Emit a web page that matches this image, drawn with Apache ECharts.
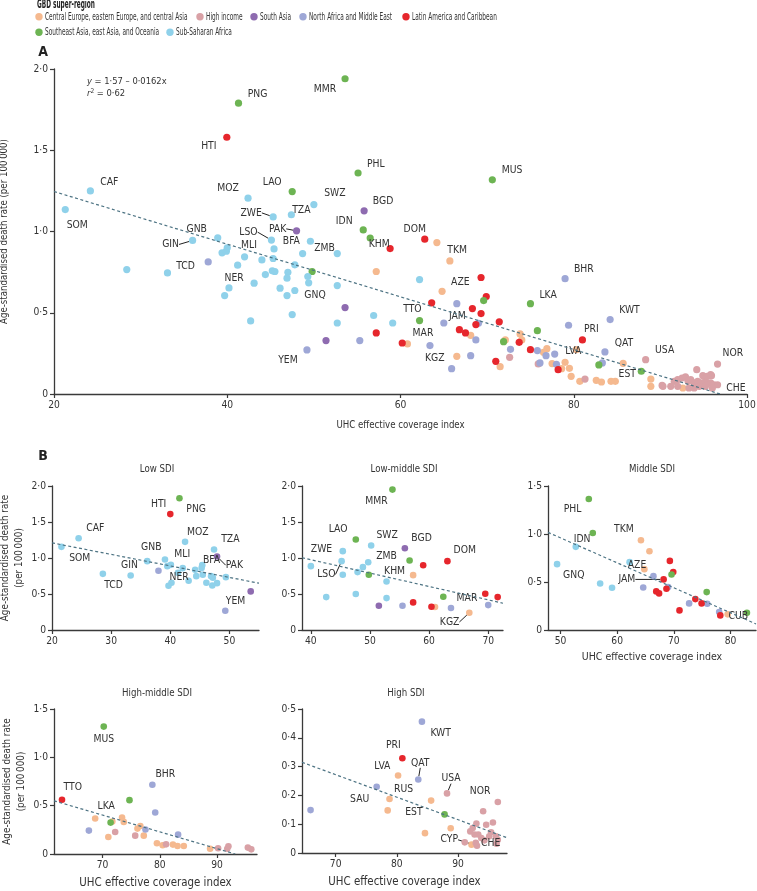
<!DOCTYPE html>
<html><head><meta charset="utf-8">
<script src="https://cdn.jsdelivr.net/npm/echarts@6/dist/echarts.min.js"></script>
<style>html,body{margin:0;padding:0;background:#fff}#c{width:757px;height:891px}</style>
</head><body><div id="c"></div>
<script>
const FONT = "'DejaVu Sans Condensed','DejaVu Sans',sans-serif";

// ---------- DATA ----------
const regionNames = [
  'Central Europe, eastern Europe, and central Asia',
  'High income',
  'South Asia',
  'North Africa and Middle East',
  'Latin America and Caribbean',
  'Southeast Asia, east Asia, and Oceania',
  'Sub-Saharan Africa'
];
// [UHC index, death rate, region index, label]
const panelA = [
  [24.2,1.25,6,'CAF'],[21.3,1.135,6,'SOM'],[42.4,1.205,6,'MOZ'],[50.0,1.166,6,'SWZ'],[45.3,1.09,6,'ZWE'],[47.4,1.103,6,'TZA'],
  [36.0,0.945,6,'GIN'],[38.9,0.961,6,'GNB'],[39.4,0.869,6],[39.9,0.879,6],[40.0,0.90,6,'MLI'],[33.1,0.745,6,'TCD'],[28.4,0.766,6],
  [41.2,0.793,6],[42.0,0.844,6],[44.0,0.825,6],[45.3,0.834,6],[45.4,0.893,6],[45.1,0.947,6,'LSO'],[49.6,0.94,6,'BFA'],[48.7,0.864,6],
  [47.8,0.795,6],[52.7,0.864,6,'ZMB'],[45.2,0.758,6],[45.5,0.754,6],[44.4,0.735,6],[47.0,0.749,6],[46.9,0.713,6],[49.3,0.723,6],
  [49.4,0.684,6,'GNQ'],[43.1,0.682,6,'NER'],[40.2,0.653,6],[39.7,0.606,6],[46.1,0.651,6],[46.9,0.606,6],[47.8,0.637,6],[52.7,0.667,6],
  [47.5,0.489,6],[42.7,0.45,6],[52.7,0.437,6],[56.9,0.483,6],[62.2,0.704,6],[59.1,0.437,6],
  [48.0,1.004,2,'PAK'],[55.8,1.127,2,'BGD'],[53.6,0.532,2],[51.4,0.329,2],
  [37.8,0.813,3],[49.2,0.271,3,'YEM'],[55.3,0.329,3],[66.5,0.556,3],[69.0,0.435,3],[65.0,0.437,3],[68.7,0.333,3],[63.4,0.298,3,'MAR'],
  [68.1,0.236,3],[65.9,0.156,3],[72.7,0.275,3],[75.8,0.267,3],[76.8,0.236,3],[77.8,0.246,3],[76.1,0.191,3],[78.0,0.183,3],
  [79.0,0.71,3,'BHR'],[79.4,0.423,3],[84.2,0.458,3,'KWT'],[83.6,0.259,3,'QAT'],[83.3,0.191,3],
  [39.95,1.58,4,'HTI'],[58.8,0.895,4],[62.8,0.953,4,'DOM'],[69.3,0.717,4],[69.9,0.60,4],[63.6,0.561,4,'TTO'],[68.3,0.526,4,'JAM'],
  [69.3,0.495,4],[68.7,0.427,4],[57.2,0.376,4],[66.8,0.396,4],[67.5,0.376,4],[71.4,0.444,4],[60.2,0.314,4],[71.0,0.201,4],
  [75.0,0.273,4],[73.7,0.318,4],[78.2,0.15,4],[81.0,0.333,4,'PRI'],
  [53.6,1.94,5,'MMR'],[41.3,1.79,5,'PNG'],[47.5,1.246,5,'LAO'],[55.1,1.36,5,'PHL'],[55.7,1.01,5,'IDN'],[56.5,0.96,5,'KHM'],
  [49.8,0.754,5],[69.6,0.575,5],[62.2,0.452,5],[75.0,0.556,5,'LKA'],[75.8,0.39,5],[71.9,0.322,5],[82.9,0.179,5],[87.8,0.14,5,'EST'],
  [70.6,1.318,5,'MUS'],
  [57.2,0.754,0],[64.2,0.932,0],[65.7,0.819,0,'TKM'],[64.8,0.632,0,'AZE'],[68.1,0.361,0],[60.8,0.308,0],[66.5,0.232,0,'KGZ'],
  [71.5,0.168,0],[72.1,0.333,0],[73.8,0.37,0],[74.0,0.333,0],[76.9,0.279,0],[76.5,0.257,0],[77.5,0.187,0],[79.0,0.195,0],
  [78.6,0.156,0],[79.5,0.158,0],[79.7,0.109,0],[80.3,0.273,0,'LVA'],[80.7,0.078,0],[82.6,0.084,0],[83.2,0.074,0],[84.3,0.078,0],
  [84.8,0.078,0],[85.7,0.189,0],[88.9,0.092,0],[88.9,0.047,0],[92.6,0.037,0],
  [72.6,0.226,1],[75.9,0.185,1],[81.3,0.092,1],[88.3,0.211,1,'USA'],[90.2,0.053,1],[96.6,0.184,1,'NOR'],[94.2,0.150,1],
  [95.9,0.113,1],[94.9,0.113,1],[91.6,0.078,1],[92.0,0.088,1],[92.5,0.098,1],[92.9,0.105,1],[93.2,0.078,1],[93.5,0.088,1],
  [93.9,0.068,1],[94.3,0.078,1],[94.7,0.068,1],[95.2,0.078,1],[95.8,0.068,1],[96.2,0.057,1],[96.6,0.057,1],[91.2,0.047,1],
  [92.0,0.047,1],[93.3,0.037,1],[93.9,0.037,1],[94.5,0.047,1],[95.2,0.047,1],[96.0,0.037,1,'CHE'],[90.3,0.047,1],
  [95.4,0.109,1],[95.8,0.119,1]
];
const panelLow = [
  [21.6,1.155,6,'SOM'],[24.5,1.275,6,'CAF'],[42.5,1.224,6,'MOZ'],[47.4,1.118,6,'TZA'],[36.1,0.956,6,'GIN'],[39.1,0.979,6,'GNB'],
  [39.5,0.887,6],[40.1,0.905,6,'MLI'],[28.6,0.78,6,'TCD'],[33.3,0.757,6],[42.1,0.859,6],[41.3,0.794,6],[43.1,0.684,6],
  [44.2,0.836,6],[44.4,0.748,6],[45.4,0.901,6,'BFA'],[45.5,0.767,6],[46.1,0.656,6],[46.9,0.748,6],[47.1,0.619,6],[47.9,0.651,6],
  [49.4,0.734,6],[40.2,0.656,6,'NER'],[39.7,0.614,6],[47.2,0.725,6],[45.3,0.86,6],
  [47.9,1.021,2,'PAK'],[53.6,0.536,2],
  [38.0,0.822,3],[49.3,0.268,3,'YEM'],
  [40.0,1.61,4,'HTI'],
  [41.55,1.83,5,'PNG']
];
const panelLowMid = [
  [53.8,1.95,5,'MMR'],[47.6,1.256,5,'LAO'],[49.8,0.767,5],[56.7,0.965,5,'KHM'],[62.4,0.462,5],
  [50.2,1.173,6,'SWZ'],[45.4,1.095,6,'ZWE'],[45.2,0.956,6,'LSO'],[40.0,0.887,6],[45.4,0.767,6],[48.8,0.873,6],[49.7,0.942,6,'ZMB'],
  [47.9,0.804,6],[52.8,0.674,6],[42.6,0.457,6],[47.6,0.499,6],[52.8,0.443,6],
  [55.9,1.136,2,'BGD'],[51.5,0.337,2],
  [59.0,0.9,4],[63.1,0.956,4,'DOM'],[57.3,0.383,4],[60.4,0.323,4],[69.5,0.503,4],[71.6,0.457,4],
  [57.3,0.762,0],[61.0,0.319,0],[66.8,0.24,0,'KGZ'],
  [55.5,0.337,3],[63.7,0.305,3,'MAR'],[70.0,0.346,3]
];
const panelMid = [
  [55.0,1.365,5,'PHL'],[55.7,1.011,5,'IDN'],[69.6,0.578,5],[75.8,0.395,5],[82.9,0.18,5],
  [52.7,0.866,6],[49.4,0.686,6,'GNQ'],[62.2,0.707,6],[57.0,0.485,6],[59.1,0.44,6],
  [64.2,0.935,0,'TKM'],[65.7,0.821,0],[64.8,0.634,0,'AZE'],[79.5,0.163,0],
  [69.3,0.72,4],[69.9,0.603,4],[68.2,0.527,4,'JAM'],[68.7,0.43,4],[66.9,0.402,4],[67.4,0.381,4],[71.0,0.204,4],[73.8,0.322,4],
  [74.9,0.277,4],[78.2,0.152,4,'CUB'],
  [66.4,0.561,3],[64.6,0.443,3],[69.0,0.447,3],[72.7,0.277,3],[75.9,0.274,3],[78.0,0.187,3]
];
const panelHighMid = [
  [70.2,1.318,5,'MUS'],[74.7,0.557,5,'LKA'],[71.4,0.325,5],
  [62.9,0.561,4,'TTO'],
  [78.7,0.716,3,'BHR'],[79.2,0.429,3],[67.6,0.242,3],[77.5,0.253,3],[83.2,0.2,3],
  [68.7,0.367,0],[71.7,0.336,0],[73.4,0.377,0],[73.7,0.332,0],[71.0,0.176,0],[76.1,0.263,0],[76.6,0.29,0],[77.2,0.19,0],
  [79.5,0.111,0],[80.5,0.09,0],[82.3,0.097,0],[83.1,0.083,0],[84.2,0.083,0],[88.8,0.055,0],
  [72.2,0.228,1],[75.7,0.19,1],[81.1,0.1,1],[90.2,0.059,1],[91.8,0.055,1],[92.0,0.08,1],[95.4,0.066,1],[96.0,0.048,1]
];
const panelHigh = [
  [84.1,0.456,3,'KWT'],[83.5,0.255,3,'QAT'],[76.7,0.23,3,'SAU'],[65.9,0.149,3],
  [80.9,0.329,4,'PRI'],
  [80.2,0.269,0,'LVA'],[78.8,0.1875,0,'RUS'],[78.5,0.148,0],[85.6,0.182,0],[88.8,0.086,0],[84.6,0.069,0],[92.2,0.029,0],
  [87.8,0.134,5,'EST'],
  [88.2,0.207,1,'USA'],[96.5,0.177,1,'NOR'],[94.1,0.145,1],[95.7,0.106,1],[94.6,0.098,1],[93.0,0.102,1],[92.0,0.075,1],
  [92.4,0.087,1],[92.7,0.064,1],[93.3,0.064,1],[93.8,0.052,1,'CHE'],[92.9,0.035,1],[93.1,0.025,1,'CYP'],[95.4,0.072,1],
  [96.5,0.046,1],[96.3,0.032,1],[91.1,0.037,1],[94.3,0.044,1],[95.1,0.058,1],[96.2,0.058,1]
];
// regression line end points
const regA = [[20,1.246],[96.9,0]];
const regLow = [[20,1.21],[55,0.65]];
const regLowMid = [[38.5,1.004],[72.5,0.372]];
const regMid = [[47.8,1.017],[84.5,0.063]];
const regHighMid = [[61.5,0.55],[93.2,0]];
const regHigh = [[64.5,0.315],[98,0.053]];
// tick values
const ticksA_x = [20,40,60,80,100], ticksA_y = [0,0.5,1,1.5,2];
const ticksLow_x = [20,30,40,50], ticksLowMid_x = [40,50,60,70], ticksMid_x = [50,60,70,80];
const ticksHM_x = [70,80,90], ticksHigh_x = [70,80,90];
const ticksY2 = [0,0.5,1,1.5,2], ticksY15 = [0,0.5,1,1.5], ticksY05 = [0,0.1,0.2,0.3,0.4,0.5];
const panelTitles = ['Low SDI','Low-middle SDI','Middle SDI','High-middle SDI','High SDI'];

// ---------- STYLE / LAYOUT ----------
const regionColors = ['#f5b98f','#d9a1a6','#8e6bb0','#9ea7d6','#e6262c','#6db453','#8fd1ea'];
const labelOffsets = {
  A: {MMR:[-20,10.7],PNG:[19,-9.3],HTI:[-18,9],CAF:[19,-9],SOM:[12,16],MOZ:[-20,-10],LAO:[-20,-9],PHL:[17.7,-8.3],SWZ:[21,-11],
      BGD:[19,-10],TZA:[10,-4.5],ZWE:[-22,-4],PAK:[-19,-2],IDN:[-19,-8.3],LSO:[-23,-8],GNB:[-21,-9],GIN:[-22,4],MLI:[21.7,-2.3],
      BFA:[-19,0],ZMB:[-12.7,-5],TCD:[18,-7],NER:[-20,-5.3],GNQ:[6.3,12.3],YEM:[-19,10],KHM:[9,6],DOM:[-10,-10],TKM:[7.3,-10.7],
      AZE:[18.3,-9],TTO:[-19.3,6.7],JAM:[-15,7.7],MAR:[-7,-12],KGZ:[-22,2],LKA:[17.7,-8.3],BHR:[18.7,-9],KWT:[19.3,-9],PRI:[9,-10.3],
      QAT:[19,-9],LVA:[-3,2],USA:[19,-9],EST:[-14,3.3],NOR:[15.3,-10.3],CHE:[23.6,0],MUS:[19.7,-9.3]},
  low: {HTI:[-11.7,-9.3],PNG:[16.7,10.7],CAF:[16.7,-9.7],SOM:[18.3,11],MOZ:[12.7,-10],TZA:[16.3,-10],GNB:[-13.7,-12.3],GIN:[-17.7,4],
      MLI:[11.3,-11],BFA:[9.3,-4.7],PAK:[17.3,8.7],TCD:[10.7,11.3],NER:[7.7,-5],YEM:[10.3,-9.7]},
  lowmid: {MMR:[-16,11.7],LAO:[-17.7,-10],SWZ:[16,-10],BGD:[16.7,-10],ZWE:[-21.3,-1.7],ZMB:[18.3,-6],DOM:[17.3,-10.7],KHM:[-15,10.7],
      LSO:[-15.3,13.3],MAR:[16,-9.7],KGZ:[-19.7,9.3]},
  mid: {PHL:[-16.3,10.7],IDN:[-10.7,6],TKM:[-17,-10.7],AZE:[-7.3,-4],GNQ:[16.7,11],JAM:[-36.7,0],CUB:[18,0.7]},
  highmid: {MUS:[0,12.7],TTO:[10.7,-12.3],BHR:[13,-10],LKA:[-23.3,6]},
  high: {KWT:[18.7,11.3],PRI:[-9,-13.3],LVA:[-15.7,-9.7],QAT:[2,-16.7],SAU:[-17,12.3],RUS:[14,-9.3],USA:[4,-14.7],NOR:[-17.7,-11],
      EST:[-30.7,-2.3],CYP:[-27.7,-6],CHE:[9.3,5]}
};
const leaders = {A:['ZWE','PAK','LSO','GIN'], low:['PAK'], lowmid:['LSO','KGZ'], mid:['JAM'], highmid:[], high:['QAT','USA','CYP']};

const panels = [
  {key:'A', data:panelA, reg:regA, grid:{left:54,top:69,width:693,height:325}, x:[20,100], y:[0,2], xt:ticksA_x, yt:ticksA_y,
   xName:'UHC effective coverage index', xGap:26, xFs:9.6, yName:'Age-standardised death rate (per 100\u2009000)', yGap:43, yFs:9.6, size:7.2},
  {key:'low', data:panelLow, reg:regLow, grid:{left:52,top:486,width:207,height:144}, x:[20,55], y:[0,2], xt:ticksLow_x, yt:ticksY2,
   xName:'', yName:'Age-standardised death rate\n(per 100\u2009000)', yGap:25.5, yFs:9.8, size:6.6},
  {key:'lowmid', data:panelLowMid, reg:regLowMid, grid:{left:302,top:486,width:201,height:144}, x:[38.5,72.5], y:[0,2], xt:ticksLowMid_x, yt:ticksY2,
   xName:'', yName:'', size:6.6},
  {key:'mid', data:panelMid, reg:regMid, grid:{left:548,top:486,width:208,height:144}, x:[47.8,84.5], y:[0,1.5], xt:ticksMid_x, yt:ticksY15,
   xName:'UHC effective coverage index', xGap:22, xFs:10.5, yName:'', size:6.6},
  {key:'highmid', data:panelHighMid, reg:regHighMid, grid:{left:54,top:709,width:203,height:145}, x:[61.5,97], y:[0,1.5], xt:ticksHM_x, yt:ticksY15,
   xName:'UHC effective coverage index', xGap:24, xFs:11.4, yName:'Age-standardised death rate\n(per 100\u2009000)', yGap:25.5, yFs:9.8, size:6.6},
  {key:'high', data:panelHigh, reg:regHigh, grid:{left:302,top:709,width:205,height:144}, x:[64.5,98], y:[0,0.5], xt:ticksHigh_x, yt:ticksY05,
   xName:'UHC effective coverage index', xGap:24, xFs:11.4, yName:'', size:6.6}
];

const AX = '#3a3a3a', TXT = '#333';
const fmtY = v => v === 0 ? '0' : v.toFixed(1).replace('.', '\u00b7');
const fmtX = v => String(v);

const grids = [], xAxes = [], yAxes = [], series = [];
panels.forEach((p, gi) => {
  grids.push(Object.assign({containLabel:false, outerBoundsMode:'none'}, p.grid));
  xAxes.push({type:'value', gridIndex:gi, min:p.x[0], max:p.x[1],
    axisLine:{show:true, onZero:false, lineStyle:{color:AX, width:1.3}},
    axisTick:{show:true, length:4, customValues:p.xt, lineStyle:{color:AX, width:1.2}},
    axisLabel:{customValues:p.xt, formatter:fmtX, color:TXT, fontSize:10.2, fontFamily:FONT, margin:6},
    splitLine:{show:false},
    name:p.xName, nameLocation:'middle', nameGap:p.xGap || 20,
    nameTextStyle:{color:TXT, fontSize:p.xFs || 10, fontFamily:FONT}});
  yAxes.push({type:'value', gridIndex:gi, min:p.y[0], max:p.y[1],
    axisLine:{show:true, onZero:false, lineStyle:{color:AX, width:1.3}},
    axisTick:{show:true, length:4, customValues:p.yt, lineStyle:{color:AX, width:1.2}},
    axisLabel:{customValues:p.yt, formatter:fmtY, color:TXT, fontSize:10.2, fontFamily:FONT, margin:6},
    splitLine:{show:false},
    name:p.yName, nameLocation:'middle', nameGap:p.yGap || 30, nameRotate:90,
    nameTextStyle:{color:TXT, fontSize:p.yFs || 10, fontFamily:FONT, lineHeight:14}});
  for (let r = 0; r < 7; r++) {
    const pts = p.data.filter(d => d[2] === r).map(d => ({
      value:[d[0], d[1]],
      name:d[3] || '',
      label:{show:!!d[3]},
      labelLine:{show:!!(d[3] && leaders[p.key].indexOf(d[3]) >= 0)}
    }));
    series.push({type:'scatter', name:regionNames[r], xAxisIndex:gi, yAxisIndex:gi, data:pts,
      symbolSize:p.size, itemStyle:{color:regionColors[r], opacity:1},
      label:{show:false, position:'inside', formatter:q => q.name, color:TXT, fontSize:10.3, fontFamily:FONT,
             textBorderWidth:0, textShadowBlur:0},
      labelLine:{show:false, lineStyle:{color:'#222', width:1}},
      labelLayout:(q) => { const o = labelOffsets[p.key][q.text] || [0,0]; return {dx:o[0], dy:o[1]}; },
      emphasis:{disabled:true}, z:3});
  }
  series.push({type:'line', xAxisIndex:gi, yAxisIndex:gi, data:p.reg, symbol:'none', silent:true,
    lineStyle:{type:[3,2.5], color:'#4d7383', width:1.2}, z:4});
});

const graphics = [
  {type:'text', x:37, y:5, scaleX:0.56, style:{text:'GBD super-region', font:'bold 11.5px ' + FONT, fill:'#222', verticalAlign:'middle'}},
  {type:'text', x:43, y:52, style:{text:'A', font:'bold 14px ' + FONT, fill:'#222', align:'center', verticalAlign:'middle'}},
  {type:'text', x:43, y:456, style:{text:'B', font:'bold 14px ' + FONT, fill:'#222', align:'center', verticalAlign:'middle'}},
  {type:'text', x:87, y:82, style:{text:'{i|y} = 1\u00b757 \u2013 0\u00b70162x', verticalAlign:'middle', font:'9.3px ' + FONT, fill:TXT,
    rich:{i:{fontStyle:'italic', fontSize:9.3, fontFamily:FONT, fill:TXT}}}},
  {type:'text', x:87, y:94, style:{text:'{i|r}{s|2} = 0\u00b762', verticalAlign:'middle', font:'9.3px ' + FONT, fill:TXT,
    rich:{i:{fontStyle:'italic', fontSize:9.3, fontFamily:FONT, fill:TXT}, s:{fontSize:6.5, fontFamily:FONT, fill:TXT, verticalAlign:'top', padding:[0,0,5,0]}}}}
];
const titlePos = [[157,469],[404,469],[652,469],[157,693],[406,693]];
panelTitles.forEach((t, i) => graphics.push({type:'text', x:titlePos[i][0], y:titlePos[i][1],
  style:{text:t, font:'9.6px ' + FONT, fill:TXT, align:'center', verticalAlign:'middle'}}));
// legend (drawn as graphic so that the condensed lettering can be matched)
const legendPos = [[39,16.7],[200,16.7],[254,16.7],[303,16.7],[406,16.7],[39,32.3],[170,32.3]];
regionNames.forEach((n, i) => {
  graphics.push({type:'circle', shape:{cx:legendPos[i][0], cy:legendPos[i][1], r:3.7}, style:{fill:regionColors[i]}});
  graphics.push({type:'text', x:legendPos[i][0] + 6, y:legendPos[i][1], scaleX:0.6,
    style:{text:n, font:'10.8px ' + FONT, fill:TXT, verticalAlign:'middle'}});
});

const option = {
  animation:false,
  backgroundColor:'#fff',
  grid:grids, xAxis:xAxes, yAxis:yAxes, series:series, graphic:graphics
};
const chart = echarts.init(document.getElementById('c'), null, {renderer:'canvas'});
chart.setOption(option);
</script></body></html>
